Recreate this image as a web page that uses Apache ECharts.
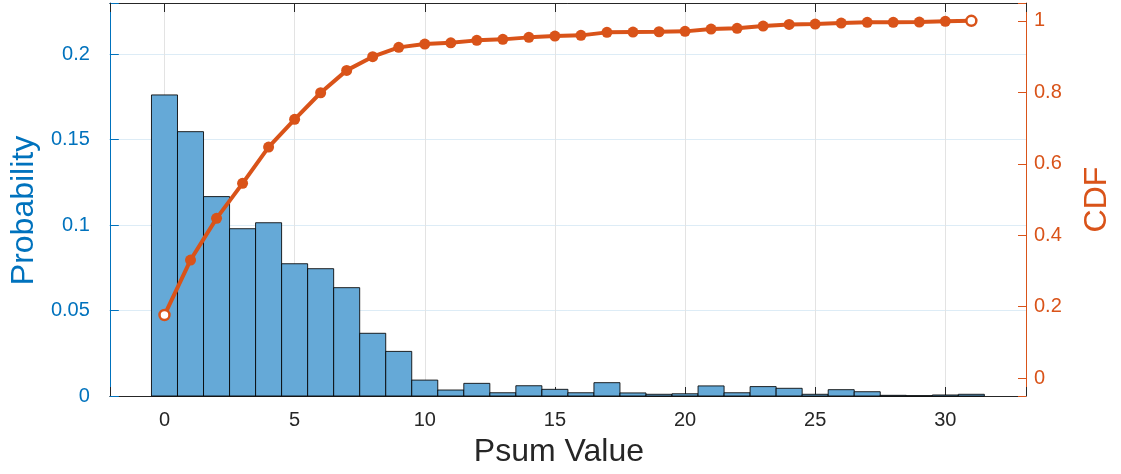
<!DOCTYPE html>
<html>
<head>
<meta charset="utf-8">
<script src="https://cdn.jsdelivr.net/npm/echarts@6/dist/echarts.min.js"></script>
<style>
html,body{margin:0;padding:0;background:#fff;}
#c{width:1121px;height:474px;}
</style>
</head>
<body>
<div id="c"></div>
<script>
// ---- data ----
var psumValues = [0,1,2,3,4,5,6,7,8,9,10,11,12,13,14,15,16,17,18,19,20,21,22,23,24,25,26,27,28,29,30,31];
var probability = [0.1762,0.1547,0.1167,0.0979,0.1014,0.0774,0.0745,0.0634,0.0367,0.0261,
  0.0093,0.0035,0.0074,0.0019,0.0060,0.0039,0.0019,0.0078,0.0018,0.0010,
  0.0013,0.0059,0.0019,0.0055,0.0045,0.0010,0.0037,0.0025,0.0004,0.0002,0.0006,0.0010];
var cdf = [0.1766,0.3305,0.4472,0.5452,0.6468,0.7243,0.7988,0.8614,0.8996,0.9258,
  0.9350,0.9387,0.9454,0.9482,0.9538,0.9575,0.9594,0.9678,0.9687,0.9695,
  0.9706,0.9770,0.9790,0.9854,0.9900,0.9910,0.9938,0.9958,0.9960,0.9966,0.9986,1.0000];
var xTickLabels = ['0','5','10','15','20','25','30'];
var leftTickLabels = ['0','0.05','0.1','0.15','0.2'];
var rightTickLabels = ['0','0.2','0.4','0.6','0.8','1'];

var BLUE = '#0072BD', ORANGE = '#D95319', DARK = '#262626';
var FONT = "'Liberation Sans', Arial, Helvetica, sans-serif";

function isIn(list, v){
  for (var i=0;i<list.length;i++){ if (Math.abs(parseFloat(list[i]) - v) < 1e-6) return true; }
  return false;
}

var histData = psumValues.map(function(x,i){ return [x, probability[i]]; });
var cdfData = psumValues.map(function(x,i){
  var d = {value:[x, cdf[i]]};
  if (i === 0 || i === psumValues.length-1) {
    d.symbol = 'circle';
    d.symbolSize = 10;
    d.itemStyle = {color:'#ffffff', borderColor: ORANGE, borderWidth: 2.5};
  }
  return d;
});

var chart = echarts.init(document.getElementById('c'), null, {renderer:'canvas'});
var option = {
  animation:false,
  backgroundColor:'#ffffff',
  grid:{left:108, right:94, top:3, bottom:78, containLabel:false},
  xAxis:[{
    type:'value', min:-2.1, max:33.1, splitNumber:7, position:'bottom',
    name:'Psum Value', nameLocation:'middle', nameGap:40,
    nameTextStyle:{color:DARK, fontSize:32, fontFamily:FONT, padding:[0,18,0,0]},
    axisLine:{show:true, onZero:false, lineStyle:{color:DARK, width:1}},
    axisTick:{show:true, inside:true, length:9, lineStyle:{color:DARK, width:1}},
    axisLabel:{color:DARK, fontSize:20, fontFamily:FONT, margin:14,
      formatter:function(v){ return isIn(xTickLabels, v) ? String(v) : ''; }},
    splitLine:{show:true, lineStyle:{color:'#E3E3E3', width:1}}
  },{
    type:'value', min:-2.1, max:33.1, splitNumber:7, position:'top',
    axisLine:{show:true, onZero:false, lineStyle:{color:DARK, width:1}},
    axisTick:{show:true, inside:true, length:9, lineStyle:{color:DARK, width:1}},
    axisLabel:{show:false},
    splitLine:{show:false}
  }],
  yAxis:[{
    type:'value', min:0, max:0.23, interval:0.05, position:'left',
    name:'Probability', nameLocation:'middle', nameGap:68, nameRotate:90,
    nameTextStyle:{color:BLUE, fontSize:32, fontFamily:FONT, padding:[0,22,0,0]},
    axisLine:{show:true, onZero:false, lineStyle:{color:BLUE, width:1}},
    axisTick:{show:true, inside:true, length:9, lineStyle:{color:BLUE, width:1}},
    axisLabel:{color:BLUE, fontSize:20, fontFamily:FONT, margin:20,
      formatter:function(v){ return isIn(leftTickLabels, v) ? String(+v.toFixed(4)) : ''; }},
    splitLine:{show:true, lineStyle:{color:'#DDECF6', width:1}}
  },{
    type:'value', min:-0.05, max:1.05, splitNumber:5, position:'right',
    name:'CDF', nameLocation:'middle', nameGap:55, nameRotate:90,
    nameTextStyle:{color:ORANGE, fontSize:32, fontFamily:FONT},
    axisLine:{show:true, onZero:false, lineStyle:{color:ORANGE, width:1}},
    axisTick:{show:true, inside:true, length:8, lineStyle:{color:ORANGE, width:1}},
    axisLabel:{color:ORANGE, fontSize:20, fontFamily:FONT, margin:8,
      formatter:function(v){ return isIn(rightTickLabels, v) ? String(+v.toFixed(4)) : ''; }},
    splitLine:{show:false}
  }],
  series:[{
    type:'custom', xAxisIndex:0, yAxisIndex:0, data:histData, z:2,
    renderItem:function(params, api){
      var x = api.value(0), y = api.value(1);
      var p0 = api.coord([x-0.5, y]);
      var p1 = api.coord([x+0.5, 0]);
      return {type:'rect', shape:{x:p0[0], y:p0[1], width:p1[0]-p0[0], height:p1[1]-p0[1]},
        style:{fill:'#65A9D7', stroke:'rgba(0,0,0,0.85)', lineWidth:1}};
    }
  },{
    type:'line', xAxisIndex:0, yAxisIndex:1, data:cdfData, z:5,
    symbol:'circle', symbolSize:11, showAllSymbol:true,
    lineStyle:{color:ORANGE, width:4},
    itemStyle:{color:ORANGE},
    emphasis:{disabled:true}
  }]
};
chart.setOption(option);
</script>
</body>
</html>
